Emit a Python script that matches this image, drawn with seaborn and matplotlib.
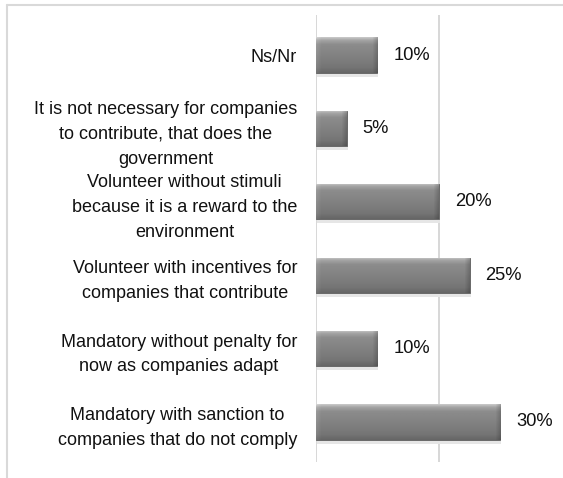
import numpy as np
import pandas as pd
import matplotlib
matplotlib.use("Agg")
import matplotlib.pyplot as plt
from matplotlib.patches import Rectangle
from matplotlib.lines import Line2D
import seaborn as sns

categories = [
    "Ns/Nr",
    "It is not necessary for companies\nto contribute, that does the\ngovernment",
    "Volunteer without stimuli\nbecause it is a reward to the\nenvironment",
    "Volunteer with incentives for\ncompanies that contribute",
    "Mandatory without penalty for\nnow as companies adapt",
    "Mandatory with sanction to\ncompanies that do not comply",
]
values = [10, 5, 20, 25, 10, 30]
value_labels = ["10%", "5%", "20%", "25%", "10%", "30%"]

df = pd.DataFrame({"option": categories, "share": values})

sns.set_theme(style="white")
plt.rcParams["font.family"] = ["Liberation Sans", "DejaVu Sans"]

fig = plt.figure(figsize=(5.63, 4.78), dpi=100)
ax = fig.add_axes([316 / 563, 1 - 462 / 478, 215 / 563, 447 / 478])

sns.barplot(data=df, x="share", y="option", orient="h", color="#7a7a7a",
            width=0.48, ax=ax, zorder=3)

ax.set_xlim(0, 35)
ax.set_ylim(5.545, -0.545)
ax.set_xticks([0, 20])
ax.set_xticklabels([])
ax.tick_params(axis="x", length=0)
ax.tick_params(axis="y", length=0, pad=13.5, labelsize=13, labelcolor="#111111")
for lbl in ax.get_yticklabels():
    lbl.set_multialignment("center")
    lbl.set_linespacing(1.6)
ax.set_xlabel("")
ax.set_ylabel("")
for s in ax.spines.values():
    s.set_visible(False)
ax.grid(axis="x", color="#d4d4d4", linewidth=1.3, zorder=0)
ax.grid(axis="y", visible=False)

# px -> data conversion factors
px_x = 35 / 215.0
px_y = 6.09 / 447.0

# vertical shading profile of each bar (top highlight, darker base)
vprof_pos = np.array([0.0, 0.08, 0.2, 0.5, 0.85, 1.0])
vprof_val = np.array([0.78, 0.64, 0.55, 0.51, 0.46, 0.40])

for patch, v in zip(list(ax.patches), values):
    x0, y0 = patch.get_x(), patch.get_y()
    w, h = patch.get_width(), patch.get_height()
    # soft shadow below and to the right
    ax.add_patch(Rectangle((x0 + 1.0 * px_x, y0 + 4.0 * px_y), w, h,
                           facecolor="#e6e6e6", edgecolor="none", zorder=2))
    wpx = max(int(round(w / px_x)), 2)
    hpx = 40
    rows = np.interp(np.linspace(0, 1, hpx), vprof_pos, vprof_val)
    img = np.tile(rows[:, None], (1, wpx))
    cols = np.arange(wpx)
    edge = 5.0
    right = np.clip((cols - (wpx - 1 - edge)) / edge, 0, 1)
    left = np.clip((edge - cols) / edge, 0, 1)
    img = img * (1 - 0.18 * right[None, :]) + 0.05 * left[None, :]
    im = ax.imshow(img, cmap="gray", vmin=0, vmax=1, aspect="auto",
                   extent=(x0, x0 + w, y0 + h, y0), zorder=4,
                   interpolation="bilinear")
    im.set_clip_path(patch)
    patch.set_edgecolor("#5e5e5e")
    patch.set_linewidth(0.6)

ax.set_xlim(0, 35)
ax.set_ylim(5.545, -0.545)

ax.bar_label(ax.containers[0], labels=value_labels, padding=11.5,
             fontsize=13.2, color="#111111", clip_on=False)

# light frame lines along the top and left of the figure
fig.add_artist(Line2D([6.5 / 563, 1.0], [1 - 4.5 / 478] * 2,
                      transform=fig.transFigure, color="#d9d9d9", linewidth=1.5))
fig.add_artist(Line2D([6.5 / 563] * 2, [0.0, 1 - 4.5 / 478],
                      transform=fig.transFigure, color="#d9d9d9", linewidth=1.5))

fig.savefig("out.png", dpi=100, facecolor="white")
